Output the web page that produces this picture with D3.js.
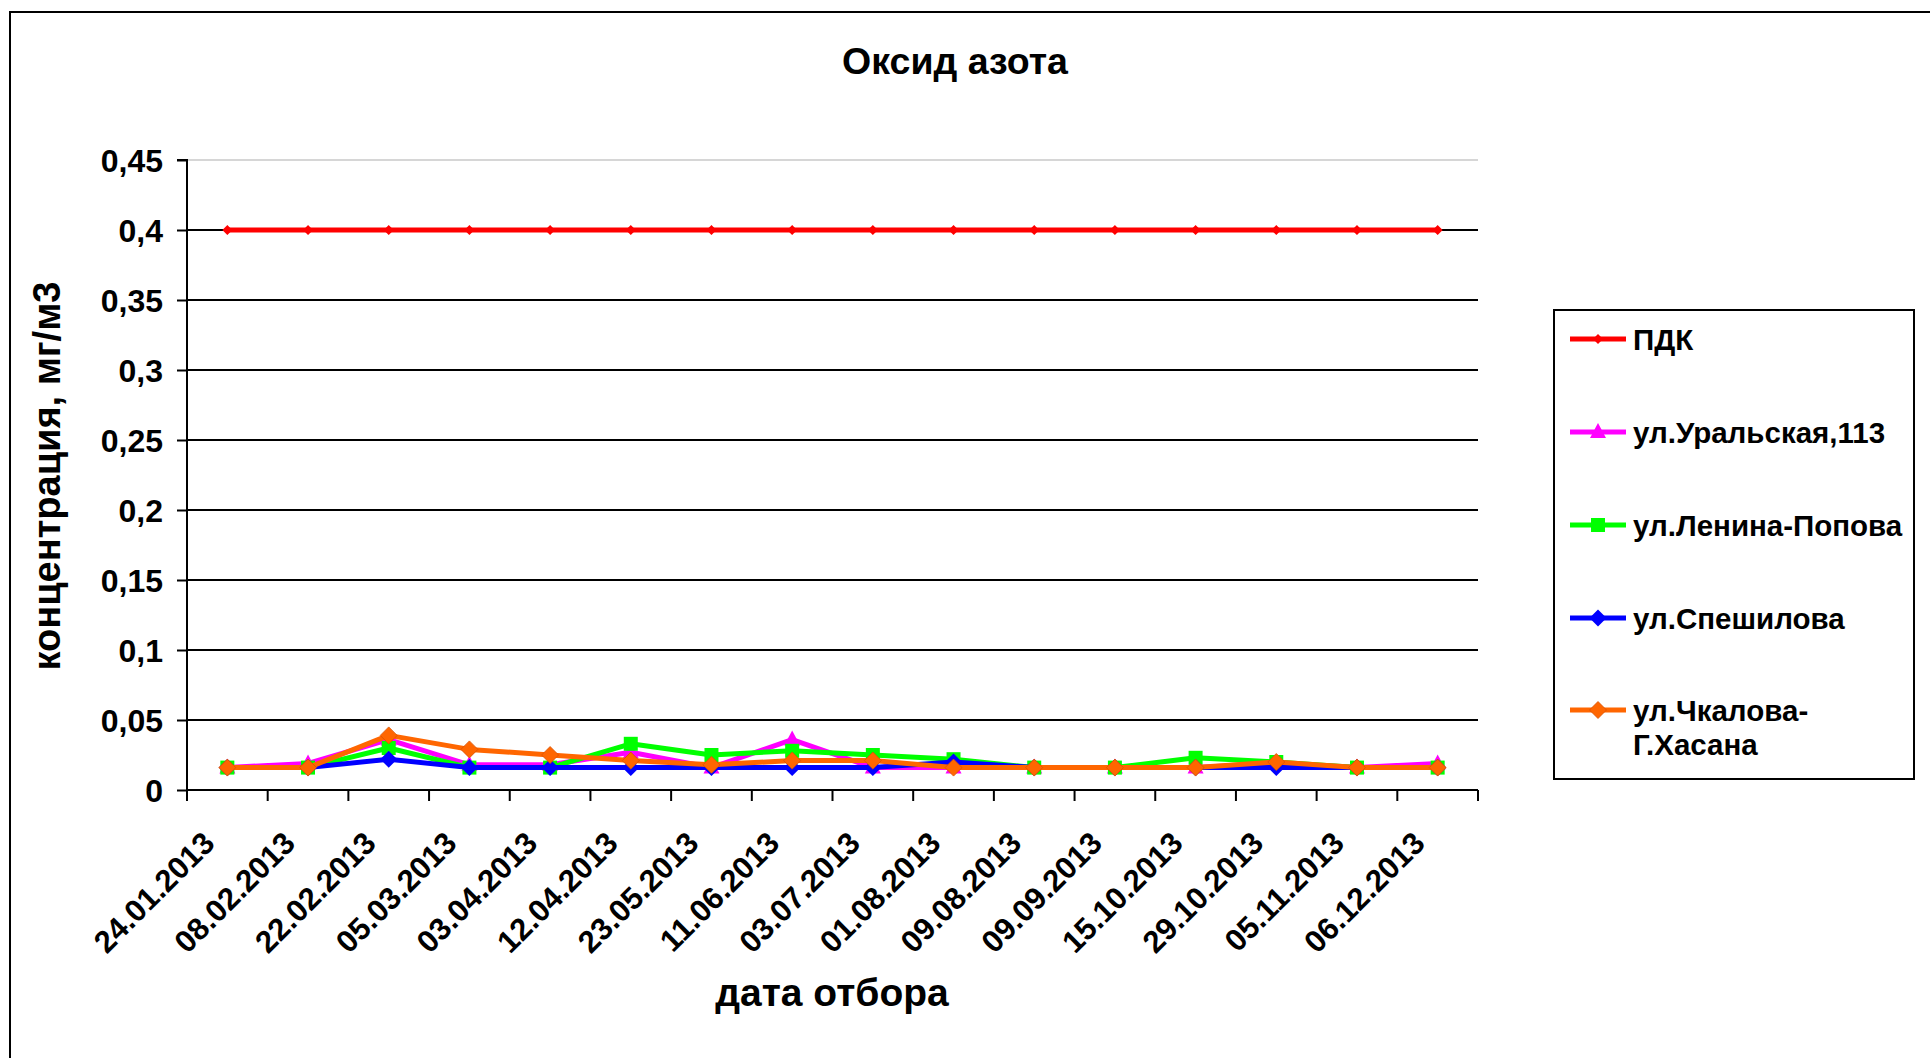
<!DOCTYPE html>
<html>
<head>
<meta charset="utf-8">
<script src="https://cdn.jsdelivr.net/npm/d3@7"></script>
<style>
  html, body { margin: 0; padding: 0; background: #fff; }
  svg { display: block; }
  text { font-family: "Liberation Sans", Arial, sans-serif; font-weight: bold; fill: #000; }
</style>
</head>
<body>
<svg id="chart" width="1930" height="1058"></svg>
<script>
const categories = ["24.01.2013","08.02.2013","22.02.2013","05.03.2013","03.04.2013","12.04.2013","23.05.2013","11.06.2013","03.07.2013","01.08.2013","09.08.2013","09.09.2013","15.10.2013","29.10.2013","05.11.2013","06.12.2013"];
const pdk        = [0.4,0.4,0.4,0.4,0.4,0.4,0.4,0.4,0.4,0.4,0.4,0.4,0.4,0.4,0.4,0.4];
const uralskaya  = [0.016,0.019,0.036,0.018,0.018,0.027,0.016,0.036,0.016,0.016,0.016,0.016,0.016,0.019,0.016,0.019];
const leninaPopova = [0.016,0.016,0.030,0.016,0.016,0.033,0.025,0.028,0.025,0.022,0.016,0.016,0.023,0.020,0.016,0.016];
const speshilova = [0.016,0.016,0.022,0.016,0.016,0.016,0.016,0.016,0.016,0.020,0.016,0.016,0.016,0.016,0.016,0.016];
const chkalova   = [0.016,0.016,0.039,0.029,0.025,0.021,0.018,0.021,0.021,0.016,0.016,0.016,0.016,0.020,0.016,0.016];
const yTicks = [0,0.05,0.1,0.15,0.2,0.25,0.3,0.35,0.4,0.45];
const yTickLabels = ["0","0,05","0,1","0,15","0,2","0,25","0,3","0,35","0,4","0,45"];
const seriesNames = ["ПДК","ул.Уральская,113","ул.Ленина-Попова","ул.Спешилова","ул.Чкалова-\nГ.Хасана"];
const seriesColors = ["#FF0000","#FF00FF","#00FF00","#0000FF","#FF6600"];
const seriesMarkers = ["smallDiamond","triangle","square","diamond","diamond"];
const titleText = "Оксид азота";
const xTitle = "дата отбора";
const yTitle = "концентрация, мг/м3";

const seriesData = [pdk, uralskaya, leninaPopova, speshilova, chkalova];

const svg = d3.select("#chart");
const plot = {left: 187, right: 1478, top: 160, bottom: 790};

// outer frame (left & top visible)
svg.append("path").attr("d", `M10,1058 L10,12 L1930,12`).attr("fill","none").attr("stroke","#000").attr("stroke-width",2);

const x = d3.scalePoint().domain(categories).range([plot.left, plot.right]).padding(0.5);
const xBand = d3.scaleBand().domain(categories).range([plot.left, plot.right]);
const y = d3.scaleLinear().domain([0, 0.45]).range([plot.bottom, plot.top]);

// gridlines
svg.append("g").selectAll("line").data(yTicks.filter(d => d > 0)).join("line")
  .attr("x1", plot.left).attr("x2", plot.right)
  .attr("y1", d => y(d)).attr("y2", d => y(d))
  .attr("stroke", d => d === 0.45 ? "#c8c8c8" : "#000")
  .attr("stroke-width", d => d === 0.45 ? 1.5 : 2);

// y axis
const yAxis = d3.axisLeft(y).tickValues(yTicks).tickSize(10).tickPadding(14)
  .tickFormat((d,i) => yTickLabels[i]);
const gy = svg.append("g").attr("transform", `translate(${plot.left},0)`).call(yAxis);
gy.select(".domain").attr("stroke","#000").attr("stroke-width",2).attr("d", `M-10,${plot.top}H0V${plot.bottom}`);
gy.selectAll(".tick line").attr("stroke","#000").attr("stroke-width",2);
gy.selectAll(".tick text").attr("font-size", 32).attr("font-family","Liberation Sans, Arial").attr("font-weight","bold").attr("fill","#000").attr("dy","0.36em");

// x axis
const gx = svg.append("g").attr("transform", `translate(0,${plot.bottom})`);
gx.append("line").attr("x1", plot.left).attr("x2", plot.right).attr("y1",0).attr("y2",0).attr("stroke","#000").attr("stroke-width",2);
const boundaries = categories.map(c => xBand(c)).concat([xBand(categories[categories.length-1]) + xBand.bandwidth()]);
gx.selectAll("line.tk").data(boundaries).join("line").attr("class","tk")
  .attr("x1", d => d).attr("x2", d => d).attr("y1", 0).attr("y2", 11)
  .attr("stroke","#000").attr("stroke-width",2);
gx.selectAll("text").data(categories).join("text")
  .attr("transform", d => `translate(${x(d) - 11},55) rotate(-45)`)
  .attr("text-anchor","end").attr("font-size", 31).text(d => d);

// series lines
const line = d3.line().x((d,i) => x(categories[i])).y(d => y(d));
function markerPath(type, cx, cy) {
  if (type === "smallDiamond") { const h = 5; return `M${cx},${cy-h}L${cx+h},${cy}L${cx},${cy+h}L${cx-h},${cy}Z`; }
  if (type === "diamond") { const h = 8.5; return `M${cx},${cy-h}L${cx+h},${cy}L${cx},${cy+h}L${cx-h},${cy}Z`; }
  if (type === "square") { const h = 7; return `M${cx-h},${cy-h}H${cx+h}V${cy+h}H${cx-h}Z`; }
  if (type === "triangle") { const h = 8; return `M${cx},${cy-h-1}L${cx+h},${cy+h*0.75}L${cx-h},${cy+h*0.75}Z`; }
}
seriesData.forEach((vals, s) => {
  const g = svg.append("g");
  g.append("path").datum(vals).attr("d", line).attr("fill","none")
    .attr("stroke", seriesColors[s]).attr("stroke-width", 5).attr("stroke-linejoin","round");
  g.selectAll("path.m").data(vals).join("path").attr("class","m")
    .attr("d", (d,i) => markerPath(seriesMarkers[s], x(categories[i]), y(d)))
    .attr("fill", seriesColors[s])
    .attr("stroke", s === 4 ? "#d95000" : "none").attr("stroke-width", 0.8);
});

// titles
svg.append("text").attr("x", 955).attr("y", 74).attr("text-anchor","middle").attr("font-size", 37.5).text(titleText);
svg.append("text").attr("x", 832).attr("y", 1006).attr("text-anchor","middle").attr("font-size", 39).text(xTitle);
svg.append("text").attr("transform","translate(60,476) rotate(-90)").attr("text-anchor","middle").attr("font-size", 38).text(yTitle);

// legend
const leg = svg.append("g");
leg.append("rect").attr("x",1554).attr("y",310).attr("width",360).attr("height",469)
  .attr("fill","#fff").attr("stroke","#000").attr("stroke-width",2);
const legY = [339, 432, 525, 618, 710];
seriesNames.forEach((name, s) => {
  const cy = legY[s];
  leg.append("line").attr("x1",1570).attr("x2",1626).attr("y1",cy).attr("y2",cy)
    .attr("stroke", seriesColors[s]).attr("stroke-width",5);
  leg.append("path").attr("d", markerPath(seriesMarkers[s], 1598, cy)).attr("fill", seriesColors[s])
    .attr("stroke", s === 4 ? "#d95000" : "none").attr("stroke-width", 0.8);
  const t = leg.append("text").attr("x",1633).attr("y",cy).attr("font-size",29.5);
  name.split("\n").forEach((ln, k) => {
    t.append("tspan").attr("x",1633).attr("dy", k === 0 ? "0.36em" : "1.18em").text(ln);
  });
});
</script>
</body>
</html>
